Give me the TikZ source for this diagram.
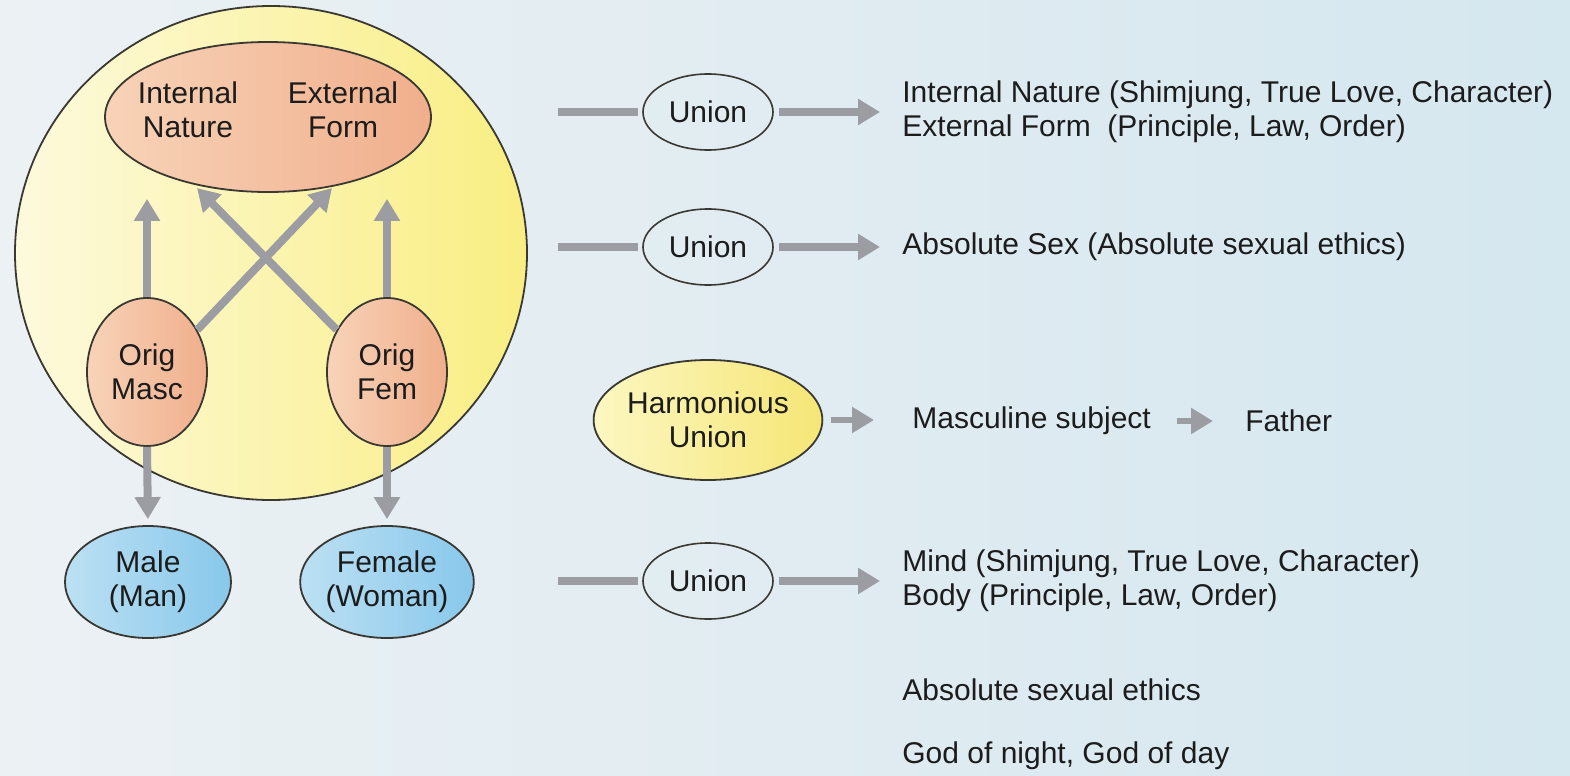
\documentclass[tikz,border=0pt]{standalone}
\usepackage{fontspec}
\setmainfont{Liberation Sans}
\usetikzlibrary{arrows.meta,shapes.geometric,calc}
\definecolor{bgL}{HTML}{ECF1F4}
\definecolor{bgR}{HTML}{D5E7EF}
\definecolor{arrowgray}{HTML}{9B9DA2}
\definecolor{outline}{HTML}{3A3833}
\definecolor{yelL}{HTML}{FDFADD}
\definecolor{yelR}{HTML}{F9EE82}
\definecolor{peachL}{HTML}{F8D3B8}
\definecolor{peachR}{HTML}{F0AF8C}
\definecolor{blueL}{HTML}{BCE0F3}
\definecolor{blueR}{HTML}{88C8EB}
\definecolor{harmL}{HTML}{FCF7C2}
\definecolor{harmR}{HTML}{F5E676}
\definecolor{txtc}{HTML}{1C1C1C}
\begin{document}
\begin{tikzpicture}[x=0.5pt,y=-0.5pt,
  every node/.style={font=\fontsize{15pt}{17pt}\selectfont, text=txtc},
  oval/.style={ellipse, draw=outline, line width=0.9pt, inner sep=0pt, align=center},
  bigc/.style={oval, left color=yelL, right color=yelR},
  peach/.style={oval, left color=peachL, right color=peachR},
  bluee/.style={oval, left color=blueL, right color=blueR},
  unionbox/.style={oval, line width=0.8pt, minimum width=65pt, minimum height=38pt},
  harm/.style={oval, left color=harmL, right color=harmR},
  txt/.style={inner sep=0pt, align=left, anchor=west},
  arr/.style={draw=arrowgray, line width=4pt, -{Triangle[length=11pt,width=12.5pt]}},
  plainline/.style={draw=arrowgray, line width=4pt}
]
% background
\shade[left color=bgL, right color=bgR] (0,0) rectangle (1570,776);
\useasboundingbox (0,0) rectangle (1570,776);

% left diagram
\node[bigc, minimum width=256pt, minimum height=247pt] (big) at (271,253) {};
\node[peach, minimum width=163pt, minimum height=75pt] (top) at (268,117) {};
\node[inner sep=0pt, align=center] (inn) at (188,110) {Internal\\Nature};
\node[inner sep=0pt, align=center] (ext) at (343,110) {External\\Form};
\node[peach, minimum width=60pt, minimum height=74pt] (om) at (147,372) {Orig\\Masc};
\node[peach, minimum width=60pt, minimum height=74pt] (of) at (387,372) {Orig\\Fem};
\node[bluee, minimum width=83pt, minimum height=56pt] (male) at (148,582) {Male\\(Man)};
\node[bluee, minimum width=84pt, minimum height=56pt] (female) at (387,582) {Female\\(Woman)};

\coordinate (xr) at (332,188);
\coordinate (xl) at (197,188);
\draw[arr, shorten >=3pt] (om.north) -- (om.north |- top.south);
\draw[arr, shorten >=3pt] (of.north) -- (of.north |- top.south);
\draw[arr] (om.40) -- (xr);
\draw[arr] (of.140) -- (xl);
\draw[arr, shorten >=3pt] (om.south) -- (male.north);
\draw[arr, shorten >=3pt] (of.south) -- (female.north);

% right side
\node[unionbox] (u1) at (708,112) {Union};
\node[unionbox] (u2) at (708,247) {Union};
\node[harm, minimum width=110pt, minimum height=60pt] (hu) at (708,420) {Harmonious\\Union};
\node[unionbox] (u4) at (708,581) {Union};

\node[txt] (t1) at (902,112) {Internal Nature (Shimjung, True Love, Character)\\External Form\ \ (Principle, Law, Order)};
\node[txt] (t2) at (902,247) {Absolute Sex (Absolute sexual ethics)};
\node[txt] (t3) at (912,421) {Masculine subject};
\node[txt] (t3b) at (1245,421) {Father};
\node[txt] (t4) at (902,581) {Mind (Shimjung, True Love, Character)\\Body (Principle, Law, Order)};
\node[txt] (t5) at (902,690) {Absolute sexual ethics};
\node[txt] (t6) at (902,756) {God of night, God of day};

\coordinate (l1) at (558,112);
\coordinate (l2) at (558,247);
\coordinate (l4) at (558,581);
\draw[plainline, shorten >=2pt] (l1) -- (u1.west);
\draw[plainline, shorten >=2pt] (l2) -- (u2.west);
\draw[plainline, shorten >=2pt] (l4) -- (u4.west);
\draw[arr, shorten <=2.5pt, shorten >=11pt] (u1.east) -- (u1.east -| t1.west);
\draw[arr, shorten <=2.5pt, shorten >=11pt] (u2.east) -- (u2.east -| t2.west);
\draw[arr, shorten <=2.5pt, shorten >=11pt] (u4.east) -- (u4.east -| t4.west);
\draw[arr, line width=3.3pt, shorten <=4pt, shorten >=19pt] (hu.east) -- (hu.east -| t3.west);
\draw[arr, line width=3.3pt, shorten <=13pt, shorten >=16pt] (t3.east) -- (t3b.west);
\end{tikzpicture}
\end{document}
